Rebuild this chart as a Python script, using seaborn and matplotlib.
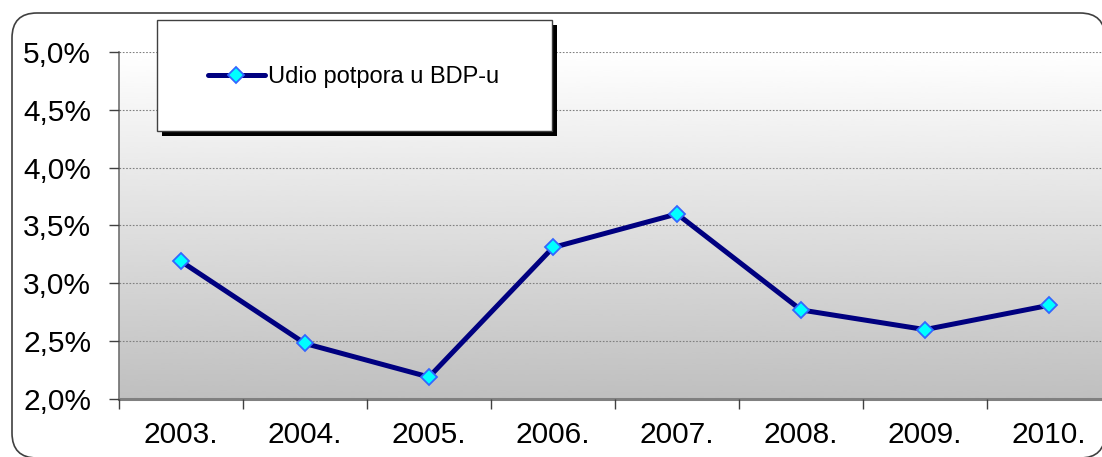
#!/usr/bin/env python3
"""Udio potpora u BDP-u, 2003.-2010."""
import matplotlib

matplotlib.use("Agg")
import matplotlib.pyplot as plt
import numpy as np
import pandas as pd
import seaborn as sns
from matplotlib.lines import Line2D
from matplotlib.patches import FancyBboxPatch, Rectangle
from matplotlib.ticker import FixedLocator, FuncFormatter

years = ["2003.", "2004.", "2005.", "2006.", "2007.", "2008.", "2009.", "2010."]
share = [3.19, 2.48, 2.19, 3.31, 3.60, 2.77, 2.60, 2.81]
series_label = "Udio potpora u BDP-u"
y_ticks = [2.0, 2.5, 3.0, 3.5, 4.0, 4.5, 5.0]

LINE = "#000080"
FACE = "#00ffff"
EDGE = "#3366ff"

sns.set_theme(style="white")
plt.rcParams["font.family"] = ["Liberation Sans", "DejaVu Sans"]
plt.rcParams["text.color"] = "black"

df = pd.DataFrame({"year": years, "share": share})

W, H, DPI = 1102, 457, 100
fig = plt.figure(figsize=(W / DPI, H / DPI), dpi=DPI)
fig.patch.set_facecolor("white")

# outer rounded frame (pixel -> inches)
frame = FancyBboxPatch(
    (12 / DPI, -1 / DPI), (1105 - 12) / DPI, (457 - 13 + 1) / DPI,
    boxstyle="round,pad=0,rounding_size=0.25",
    transform=fig.dpi_scale_trans, facecolor="white",
    edgecolor="#404040", linewidth=1.2, zorder=0,
)
fig.add_artist(frame)

ax = fig.add_axes([119 / W, (H - 399) / H, 992 / W, 347 / H])
ax.set_zorder(1)
ax.patch.set_alpha(0)

# grey gradient background
grad = np.linspace(0.75, 1.0, 256).reshape(-1, 1)
ax.imshow(grad, extent=(-0.5, 7.5, 2.0, 5.0), origin="lower", aspect="auto",
          cmap="gray", vmin=0, vmax=1, zorder=0, interpolation="bicubic")

sns.lineplot(data=df, x="year", y="share", ax=ax, color=LINE, linewidth=3.6,
             marker="D", markersize=8.5, markerfacecolor=FACE,
             markeredgecolor=EDGE, markeredgewidth=1.3, zorder=3,
             label=series_label)

ax.set_xlim(-0.5, 7.5)
ax.set_ylim(2.0, 5.0)
ax.yaxis.set_major_locator(FixedLocator(y_ticks))
ax.yaxis.set_major_formatter(FuncFormatter(lambda v, _: f"{v:.1f}%".replace(".", ",")))
ax.set_xlabel("")
ax.set_ylabel("")

ax.grid(axis="y", color="#808080", linestyle=(0, (1.5, 1.5)), linewidth=0.8)
ax.set_axisbelow(False)
for g in ax.get_ygridlines():
    g.set_zorder(1)

for s in ("top", "right"):
    ax.spines[s].set_visible(False)
ax.spines["left"].set_color("#707070")
ax.spines["left"].set_linewidth(1.2)
ax.spines["bottom"].set_color("#808080")
ax.spines["bottom"].set_linewidth(2.2)

ax.tick_params(axis="y", which="major", length=7, width=1, color="#404040",
               pad=13, labelsize=21.5, labelcolor="black", left=True)
ax.set_xticks(np.arange(len(years)) - 0.5, minor=True)
ax.tick_params(axis="x", which="major", length=0, pad=16, labelsize=21.5,
               labelcolor="black")
ax.tick_params(axis="x", which="minor", length=7, width=1, color="#404040",
               bottom=True)

# legend with drop shadow box
lx0, ly0, lx1, ly1 = 157, 20, 552, 131
shadow = Rectangle(((lx0 + 5) / W, (H - ly1 - 5) / H), (lx1 - lx0) / W,
                   (ly1 - ly0) / H, transform=fig.transFigure,
                   facecolor="black", edgecolor="none", zorder=8, clip_on=False)
box = Rectangle((lx0 / W, (H - ly1) / H), (lx1 - lx0) / W, (ly1 - ly0) / H,
                transform=fig.transFigure, facecolor="white",
                edgecolor="#404040", linewidth=1, zorder=9, clip_on=False)
ax.add_patch(shadow)
ax.add_patch(box)

handle = Line2D([], [], color=LINE, linewidth=3.6, marker="D", markersize=8.5,
                markerfacecolor=FACE, markeredgecolor=EDGE, markeredgewidth=1.3)
leg = ax.legend([handle], [series_label], frameon=False, loc="center left",
                bbox_to_anchor=(208 / W, (H - 77) / H),
                bbox_transform=fig.transFigure, fontsize=17,
                handlelength=2.4, handletextpad=0.12, borderpad=0,
                borderaxespad=0, labelcolor="black")
leg.set_zorder(10)

fig.savefig("out.png", dpi=DPI)
